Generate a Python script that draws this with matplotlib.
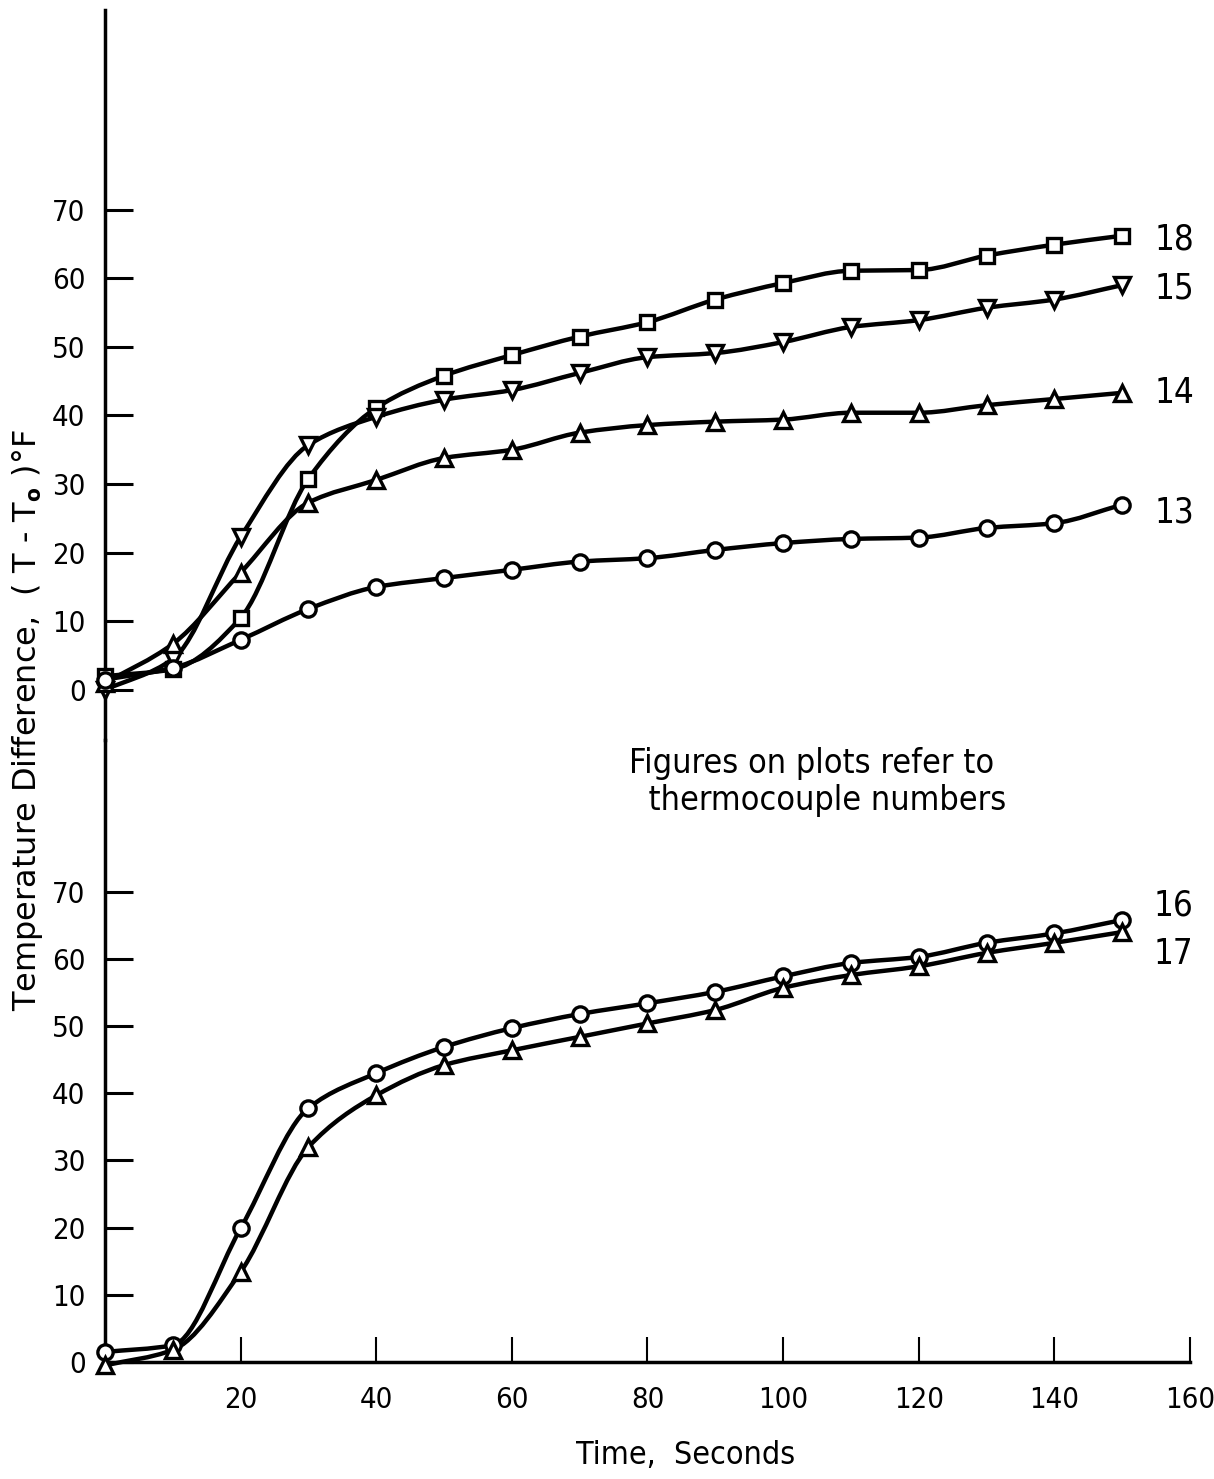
import numpy as np
import matplotlib.pyplot as plt
from matplotlib.path import Path
from matplotlib.patches import PathPatch

# time, seconds (markers every 10 s)
time = [0, 10, 20, 30, 40, 50, 60, 70, 80, 90, 100, 110, 120, 130, 140, 150]

# upper plot: thermocouples 18, 15, 14, 13  (T - To), deg F
tc18 = [2.0, 3.0, 10.5, 30.8, 41.1, 45.8, 48.8, 51.5, 53.6, 56.9, 59.3, 61.1, 61.2, 63.3, 64.9, 66.2]
tc15 = [0.0, 4.5, 22.3, 35.7, 39.8, 42.3, 43.7, 46.2, 48.5, 49.1, 50.7, 52.9, 53.9, 55.7, 56.9, 59.0]
tc14 = [1.0, 6.7, 17.1, 27.3, 30.6, 33.8, 35.0, 37.5, 38.6, 39.1, 39.4, 40.4, 40.4, 41.5, 42.4, 43.3]
tc13 = [1.5, 3.2, 7.3, 11.8, 15.0, 16.3, 17.5, 18.7, 19.2, 20.4, 21.4, 22.0, 22.2, 23.6, 24.3, 27.0]

# lower plot: thermocouples 16, 17
tc16 = [1.5, 2.5, 19.9, 37.8, 43.0, 46.9, 49.7, 51.8, 53.4, 55.1, 57.4, 59.4, 60.3, 62.4, 63.8, 65.8]
tc17 = [-0.5, 1.8, 13.4, 32.0, 39.7, 44.2, 46.4, 48.4, 50.4, 52.4, 55.7, 57.6, 58.9, 60.9, 62.4, 64.0]

yticks = [0, 10, 20, 30, 40, 50, 60, 70]
xticks = [20, 40, 60, 80, 100, 120, 140, 160]

plt.rcParams['font.family'] = ['DejaVu Sans']
plt.rcParams['font.stretch'] = 'condensed'


def smooth_curve(ax, x, y):
    # french-curve look: monotone cubic segments drawn as bezier path
    x = np.asarray(x, float)
    y = np.asarray(y, float)
    h = np.diff(x)
    d = np.diff(y) / h
    m = np.zeros_like(y)
    m[0], m[-1] = d[0], d[-1]
    for k in range(1, len(y) - 1):
        if d[k - 1] * d[k] > 0:
            m[k] = 2 / (1 / d[k - 1] + 1 / d[k])
    verts = [(x[0], y[0])]
    codes = [Path.MOVETO]
    for k in range(len(x) - 1):
        verts += [(x[k] + h[k] / 3, y[k] + m[k] * h[k] / 3),
                  (x[k + 1] - h[k] / 3, y[k + 1] - m[k + 1] * h[k] / 3),
                  (x[k + 1], y[k + 1])]
        codes += [Path.CURVE4] * 3
    ax.add_patch(PathPatch(Path(verts, codes), fill=False, lw=3.2, ec='black',
                           capstyle='round', clip_on=False, zorder=2))


def series(ax, y, marker, ms=11):
    smooth_curve(ax, time, y)
    ax.plot(time, y, ls='none', marker=marker, ms=ms, mfc='white', mec='black',
            mew=2.4, clip_on=False, zorder=3)


fig = plt.figure(figsize=(12.14, 14.79), dpi=100)
ax_top = fig.add_axes([0.0865, 0.4997, 0.8937, 0.4935])
ax_bot = fig.add_axes([0.0865, 0.0791, 0.8937, 0.4206])

series(ax_top, tc18, 's', 10.5)
series(ax_top, tc15, 'v')
series(ax_top, tc14, '^')
series(ax_top, tc13, 'o')
series(ax_bot, tc16, 'o')
series(ax_bot, tc17, '^')

ax_top.set_ylim(-7.3, 99.1)
ax_bot.set_ylim(0, 92.6)
for ax in (ax_top, ax_bot):
    ax.set_xlim(0, 160)
    ax.set_facecolor('none')
    for s in ('top', 'right'):
        ax.spines[s].set_visible(False)
    ax.spines['left'].set_linewidth(2.5)
    ax.set_yticks(yticks)
    ax.tick_params(axis='y', direction='in', length=20, width=2.2, pad=14,
                   labelsize=21)

ax_top.spines['bottom'].set_visible(False)
ax_top.set_xticks([])
ax_bot.spines['bottom'].set_linewidth(2.5)
ax_bot.set_xticks(xticks)
ax_bot.tick_params(axis='x', direction='in', length=18, width=1.5, pad=17,
                   labelsize=21)

# thermocouple numbers
ax_top.text(154.8, 65.6, '18', fontsize=25, va='center')
ax_top.text(154.8, 58.5, '15', fontsize=25, va='center')
ax_top.text(154.8, 43.3, '14', fontsize=25, va='center')
ax_top.text(154.8, 25.9, '13', fontsize=25, va='center')
ax_bot.text(154.6, 67.9, '16', fontsize=25, va='center')
ax_bot.text(154.6, 60.7, '17', fontsize=25, va='center')

ax_top.text(77.3, -13.4, 'Figures on plots refer to\n  thermocouple numbers',
            fontsize=24.5, ha='left', va='center', linespacing=1.15, clip_on=False)

fig.text(0.023, 0.513, r'Temperature Difference,  ( T - T$_{\mathbf{o}}$ )°F',
         rotation=90, fontsize=23, ha='center', va='center', fontstretch='normal')
fig.text(0.565, 0.016, 'Time,  Seconds', fontsize=23, ha='center', va='center')

fig.savefig('out.png', dpi=100)
